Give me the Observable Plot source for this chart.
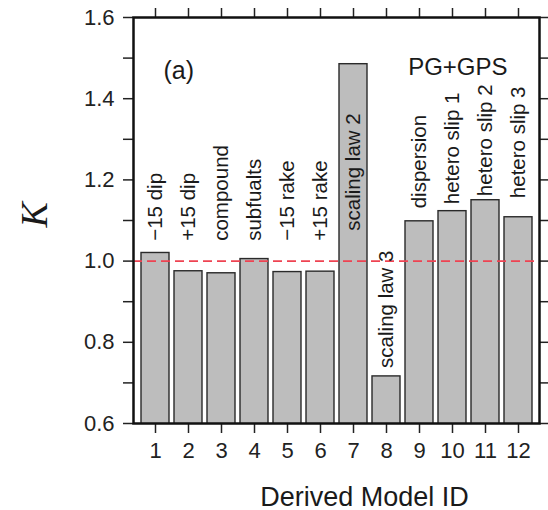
<!DOCTYPE html>
<html>
<head>
<meta charset="utf-8">
<script src="https://cdn.jsdelivr.net/npm/d3@7"></script>
<script src="https://cdn.jsdelivr.net/npm/@observablehq/plot@0.6"></script>
<style>
  html, body { margin: 0; padding: 0; background: #fff; }
  #chart { width: 548px; height: 510px; }
</style>
</head>
<body>
<div id="chart"></div>
<script>
// Data
const modelIds = [1, 2, 3, 4, 5, 6, 7, 8, 9, 10, 11, 12];
const kValues = [1.02, 0.975, 0.970, 1.005, 0.973, 0.974, 1.485, 0.716, 1.098, 1.123, 1.150, 1.108];
const modelNames = ["\u221215 dip", "+15 dip", "compound", "subfualts", "\u221215 rake", "+15 rake",
  "scaling law 2", "scaling law 3", "dispersion", "hetero slip 1", "hetero slip 2", "hetero slip 3"];
const labelK = [1.05, 1.05, 1.05, 1.05, 1.05, 1.05, 1.075, 0.737, 1.13, 1.14, 1.16, 1.155];
const yTicks = [0.6, 0.7, 0.8, 0.9, 1.0, 1.1, 1.2, 1.3, 1.4, 1.5, 1.6];
const referenceK = [1.0];
const panelTag = "(a)";
const panelName = "PG+GPS";
const xTitle = "Derived Model ID";
const yTitle = "K";

const rows = modelIds.map((id, i) => ({id, k: kValues[i], name: modelNames[i], ly: labelK[i]}));

const chart = Plot.plot({
  width: 548,
  height: 510,
  marginLeft: 133,
  marginRight: 9,
  marginTop: 17,
  marginBottom: 87,
  style: {fontFamily: "'Liberation Sans', Arial, sans-serif", color: "#222", background: "#fff"},
  x: {type: "band", domain: modelIds, paddingInner: 0.16, paddingOuter: 0.2},
  y: {domain: [0.6, 1.6]},
  marks: [
    Plot.barY(rows, {x: "id", y: "k", fill: "#bdbdbd", stroke: "#2a2a2a", strokeWidth: 1.4, clip: true}),
    Plot.ruleY(referenceK, {stroke: "#ee4352", strokeWidth: 1.8, strokeDasharray: "9,5"}),
    Plot.text(rows, {x: "id", y: "ly", text: "name", rotate: -90, textAnchor: "start",
      fontSize: 20.5, fill: "#1a1a1a"}),
    Plot.axisY({ticks: yTicks, tickSize: 10, tickPadding: 9, fontSize: 22, strokeWidth: 1.5, label: null,
      tickFormat: d => (Math.round(d * 10) % 2 === 0 ? d.toFixed(1) : "")}),
    Plot.axisY({anchor: "right", ticks: yTicks, tickSize: 10, strokeWidth: 1.5, label: null, tickFormat: () => ""}),
    Plot.axisX({anchor: "bottom", tickSize: 10, tickPadding: 9, fontSize: 22, strokeWidth: 1.5, label: null}),
    Plot.axisX({anchor: "top", tickSize: 10, strokeWidth: 1.5, label: null, tickFormat: () => ""}),
    Plot.text([panelTag], {frameAnchor: "top-left", textAnchor: "start", dx: 30, dy: 44, fontSize: 25, fill: "#1a1a1a"}),
    Plot.text([panelName], {frameAnchor: "top-right", textAnchor: "end", dx: -32, dy: 40, fontSize: 24, fill: "#1a1a1a"}),
    Plot.text([xTitle], {frameAnchor: "bottom", lineAnchor: "bottom", dx: 28, dy: 82, fontSize: 27, fill: "#1a1a1a"}),
    Plot.text([yTitle], {frameAnchor: "left", rotate: -90, dx: -99, dy: 7, fontSize: 38, fontStyle: "italic",
      fontFamily: "'Liberation Serif', 'Times New Roman', serif", fill: "#1a1a1a"}),
    Plot.frame({stroke: "#111", strokeWidth: 2.5})
  ]
});
document.getElementById("chart").appendChild(chart);
</script>
</body>
</html>
